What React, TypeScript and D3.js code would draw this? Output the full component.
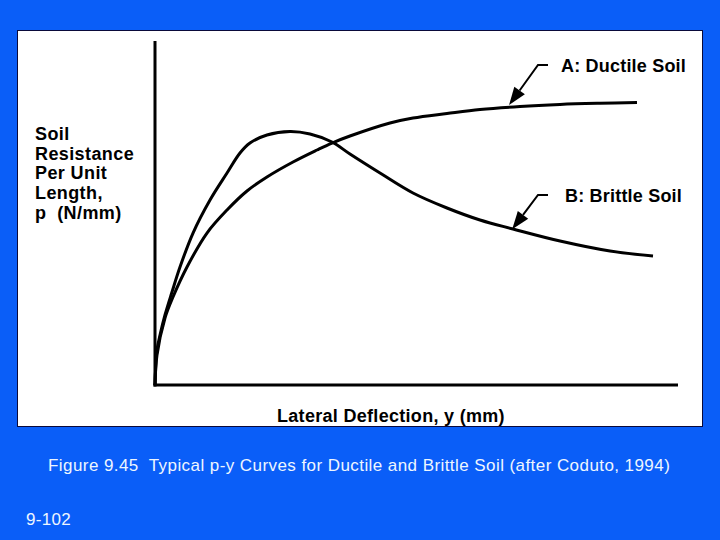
import React from "react";
import * as d3 from "d3";

// Curve A: Ductile soil (x: lateral deflection, y: soil resistance), arbitrary units 0-100
const ductileX = [0, 0.38, 1.91, 3.44, 6.12, 9.94, 13.77, 17.59, 21.41, 26.39, 30.98, 33.84, 37.28, 44.93, 49.33, 55.83, 62.14, 69.79, 77.44, 85.09, 92.16];
const ductileY = [0, 8.75, 19.53, 25.66, 34.4, 44.31, 51.02, 56.56, 60.64, 65.01, 68.51, 70.55, 72.59, 76.38, 77.84, 79.15, 80.32, 81.2, 81.78, 82.13, 82.36];

// Curve B: Brittle soil
const brittleX = [0, 0.38, 0.96, 1.91, 3.25, 4.78, 7.27, 10.52, 13.77, 16.25, 18.16, 21.41, 25.81, 29.64, 33.84, 37.28, 43.02, 49.33, 55.83, 62.14, 68.45, 77.44, 87.0, 95.22];
const brittleY = [0, 10.2, 14.58, 20.41, 27.11, 34.4, 44.31, 53.94, 61.81, 67.64, 70.55, 72.89, 73.91, 73.18, 70.85, 67.35, 61.81, 55.98, 51.6, 48.1, 45.48, 41.98, 39.07, 37.61];

const curveLabels = ["A: Ductile Soil", "B: Brittle Soil"];
// Points on the curves the arrows point at (data units)
const arrowTipX = [67.7, 68.3];
const arrowTipY = [81.6, 45.4];

const yLabelLines = ["Soil", "Resistance", "Per Unit", "Length,", "p  (N/mm)"];
const xLabel = "Lateral Deflection, y (mm)";
const caption = "Figure 9.45  Typical p-y Curves for Ductile and Brittle Soil (after Coduto, 1994)";
const slideNumber = "9-102";

const BLUE = "#0a5ef8";
const FONT = "'Liberation Sans', Arial, Helvetica, sans-serif";

export default function App() {
  const width = 720;
  const height = 540;
  const x = d3.scaleLinear().domain([0, 100]).range([155, 678]);
  const y = d3.scaleLinear().domain([0, 100]).range([385, 42]);

  const line = d3
    .line<[number, number]>()
    .x((d) => x(d[0]))
    .y((d) => y(d[1]))
    .curve(d3.curveCatmullRom.alpha(0.5));

  const ductile = ductileX.map((v, i) => [v, ductileY[i]] as [number, number]);
  const brittle = brittleX.map((v, i) => [v, brittleY[i]] as [number, number]);

  const labelY = [72, 202];

  return (
    <svg
      width={width}
      height={height}
      style={{ position: "absolute", left: 0, top: 0, display: "block" }}
    >
      <rect x={0} y={0} width={width} height={height} fill={BLUE} />
      <rect x={17.5} y={30.5} width={685} height={396} fill="#ffffff" stroke="#0a0a3a" strokeWidth={1} />

      {/* axes */}
      <line x1={x(0)} y1={y(0) + 1.5} x2={x(0)} y2={41} stroke="#000" strokeWidth={3} />
      <line x1={x(0) - 1.5} y1={y(0)} x2={678} y2={y(0)} stroke="#000" strokeWidth={3} />

      {/* curves */}
      <path d={line(ductile) || ""} fill="none" stroke="#000" strokeWidth={3} />
      <path d={line(brittle) || ""} fill="none" stroke="#000" strokeWidth={3} />

      {/* arrows + labels */}
      {curveLabels.map((lab, i) => {
        const tx = x(arrowTipX[i]);
        const ty = y(arrowTipY[i]);
        const ly = labelY[i];
        const hy = ly - 7;
        const kx = 538;
        const dx = tx - kx;
        const dy = ty - hy;
        const len = Math.hypot(dx, dy);
        const ux = dx / len;
        const uy = dy / len;
        const hl = 18;
        const hw = 6.5;
        const bx = tx - ux * hl;
        const by = ty - uy * hl;
        const px = -uy;
        const py = ux;
        return (
          <g key={lab}>
            <polyline
              points={`548,${hy} ${kx},${hy} ${bx},${by}`}
              fill="none"
              stroke="#000"
              strokeWidth={2}
            />
            <polygon
              points={`${tx},${ty} ${bx + px * hw},${by + py * hw} ${bx - px * hw},${by - py * hw}`}
              fill="#000"
            />
            <text x={i === 0 ? 561 : 565} y={ly} fontFamily={FONT} fontWeight="bold" fontSize={18} letterSpacing={0.2} fill="#000">
              {lab}
            </text>
          </g>
        );
      })}

      {/* y label */}
      {yLabelLines.map((t, i) => (
        <text
          key={t}
          x={35}
          y={140 + i * 19.7}
          fontFamily={FONT}
          fontWeight="bold"
          fontSize={18}
          letterSpacing={0.4}
          fill="#000"
          style={{ whiteSpace: "pre" }}
        >
          {t}
        </text>
      ))}

      {/* x label */}
      <text x={277} y={422} fontFamily={FONT} fontWeight="bold" fontSize={18} letterSpacing={0.3} fill="#000">
        {xLabel}
      </text>

      {/* caption */}
      <text x={48} y={471} fontFamily={FONT} fontSize={17} letterSpacing={0.43} fill="#eef6ff" style={{ whiteSpace: "pre" }}>
        {caption}
      </text>
      <text x={26} y={525} fontFamily={FONT} fontSize={17} letterSpacing={0.3} fill="#eef6ff">
        {slideNumber}
      </text>
    </svg>
  );
}
